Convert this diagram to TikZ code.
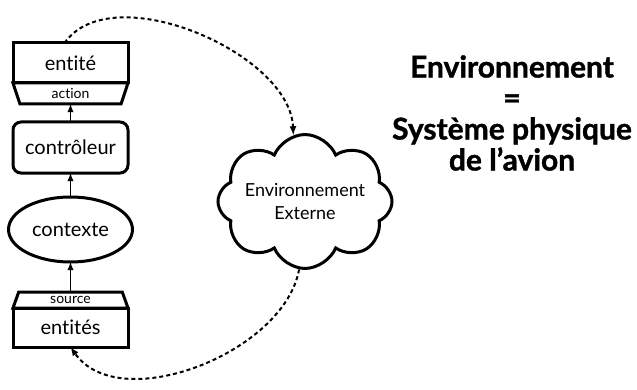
\documentclass[tikz,border=0pt]{standalone}
\usepackage{fontspec}
\setmainfont{Lato}[Ligatures=NoCommon, BoldFeatures={FakeBold=1.2}]
\usetikzlibrary{arrows,shapes.geometric,shapes.symbols,positioning}

\tikzset{
  boite/.style={draw, line width=3pt, outer sep=0pt, inner sep=0pt,
    minimum width=115pt, font=\fontsize{20}{22}\selectfont},
  port/.style={draw, line width=3pt, outer sep=0pt, inner sep=0pt,
    trapezium, trapezium stretches body, minimum width=115pt,
    font=\fontsize{14}{15}\selectfont},
  nuage/.style={draw, line width=3pt, cloud, cloud puffs=8, cloud puff arc=135,
    inner sep=-20pt, minimum width=174pt, minimum height=133pt, align=center,
    font=\fontsize{18}{23}\selectfont},
  titre/.style={align=center, inner sep=0pt, font=\fontsize{30}{31}\selectfont\bfseries},
  fleche/.style={->, >=latex, line width=1.8pt},
  retour/.style={->, >=latex, line width=2pt, dash pattern=on 4pt off 3pt},
}

\begin{document}
\begin{tikzpicture}[x=1pt,y=1pt]
  \useasboundingbox (0,0) rectangle (637,389);
  % chaine de gauche
  \node[boite, minimum height=40pt] (entite) at (70.5,326) {entité};
  \node[port, shape border rotate=180, trapezium angle=56, minimum height=21pt,
    below=0pt of entite] (action) {action};
  \node[boite, rounded corners=8pt, minimum height=51pt] (controleur) at (70.5,241.5) {contrôleur};
  \node[boite, ellipse, minimum width=124pt, minimum height=65pt] (contexte) at (70.5,159.5) {contexte};
  \node[boite, minimum height=39pt] (entites) at (70.5,61.5) {entités};
  \node[port, trapezium angle=52, minimum height=16pt, above=0pt of entites] (source) {source};

  \draw[fleche] (source.north) -- (contexte.south);
  \draw[fleche] (contexte.north) -- (controleur.south);
  \draw[fleche] (controleur.north) -- (action.south);

  % environnement
  \node[nuage] (env) at (305,187.5) {Environnement\\Externe};
  \draw[retour] ([xshift=-6pt]entite.north) to[out=55,in=92,looseness=0.85] (env.100);
  \draw[retour] (env.265) to[out=-100,in=-55,looseness=0.9] (entites.south);

  \node[titre] (titre) at (512,276) {Environnement\\=\\Système physique\\de l’avion};
\end{tikzpicture}
\end{document}
